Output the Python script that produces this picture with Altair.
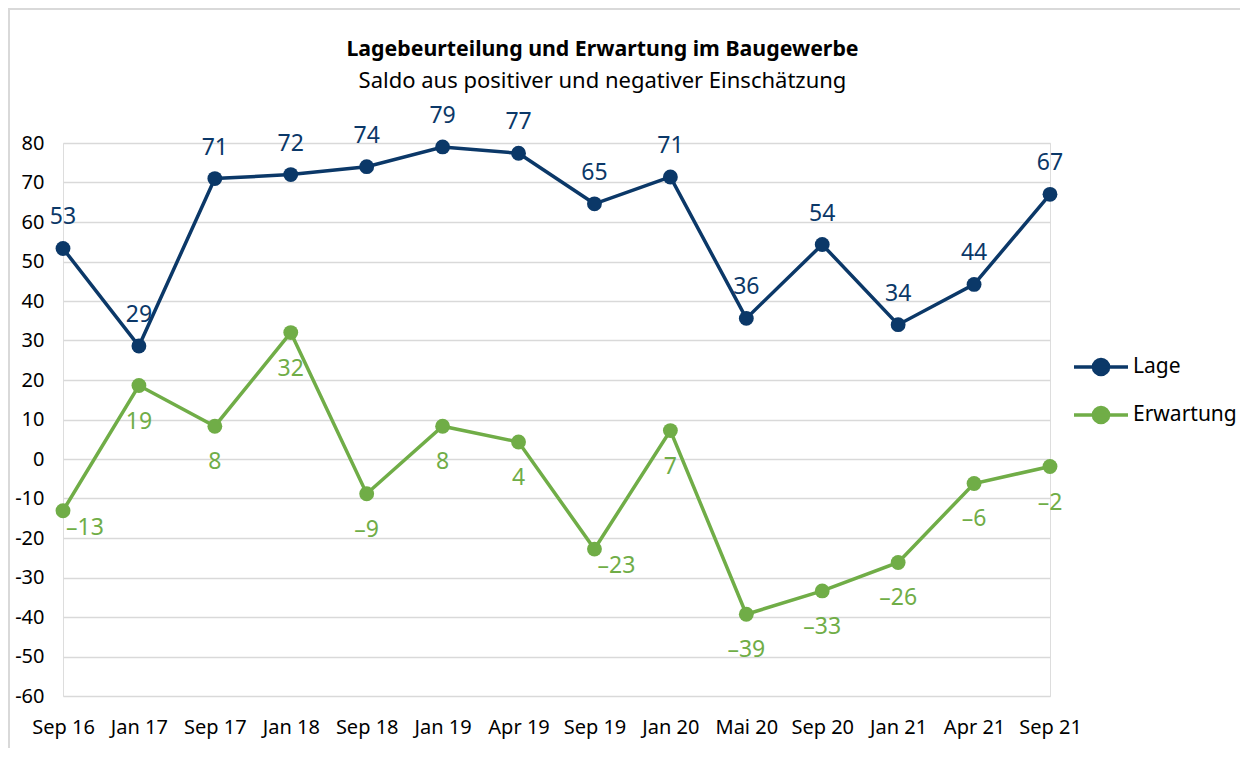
import altair as alt
import pandas as pd

months = ["Sep 16", "Jan 17", "Sep 17", "Jan 18", "Sep 18", "Jan 19", "Apr 19",
          "Sep 19", "Jan 20", "Mai 20", "Sep 20", "Jan 21", "Apr 21", "Sep 21"]
lage = [53.3, 28.6, 71.0, 72.0, 74.0, 79.0, 77.4, 64.6, 71.4, 35.6, 54.3, 34.0, 44.2, 67.0]
erwartung = [-13.1, 18.6, 8.3, 32.0, -8.8, 8.3, 4.3, -22.8, 7.2, -39.3, -33.4, -26.2, -6.2, -1.9]
series = ["Lage", "Erwartung"]
colors = ["#0b3868", "#70ad47"]

rows = []
for i, m in enumerate(months):
    rows.append({"Monat": m, "Serie": "Lage", "Wert": lage[i], "Label": str(round(lage[i]))})
    rows.append({"Monat": m, "Serie": "Erwartung", "Wert": erwartung[i],
                 "Label": str(round(erwartung[i])).replace("-", "\u2013")})
df = pd.DataFrame(rows)

FONT = "Noto Sans"

x = alt.X("Monat:N", sort=months, scale=alt.Scale(type="point", padding=0),
          axis=alt.Axis(title=None, labelAngle=0, labelFontSize=20, labelColor="#000000",
                        labelPadding=21, ticks=False, domain=False, grid=False,
                        labelFont=FONT))
y = alt.Y("Wert:Q", scale=alt.Scale(domain=[-60, 80], nice=False, zero=False),
          axis=alt.Axis(title=None, values=list(range(-60, 90, 10)), labelFontSize=20,
                        labelColor="#000000", labelPadding=19, ticks=False, domain=False,
                        grid=True, gridColor="#d9d9d9", gridWidth=1.5, labelFont=FONT,
                        labelExpr="replace(datum.label, '\u2212', '-')"))
color_scale = alt.Scale(domain=series, range=colors)

legend = alt.Legend(title=None, orient="none", legendX=1009, legendY=195,
                    symbolType="M-1,0H1M0.28,0A0.28,0.28 0 1 1 -0.28,0A0.28,0.28 0 1 1 0.28,0Z",
                    symbolSize=2916, symbolStrokeWidth=3.5, labelFontSize=21, labelFont=FONT,
                    labelColor="#000000", rowPadding=4, labelOffset=3, symbolOpacity=1)

base = alt.Chart(df)

lines = base.mark_line(strokeWidth=3.5).encode(
    x=x, y=y, color=alt.Color("Serie:N", scale=color_scale, legend=legend),
    detail="Serie:N")
points = base.mark_circle(size=220, opacity=1).encode(
    x=x, y=y, color=alt.Color("Serie:N", scale=color_scale, legend=legend))

special_expr = "(datum.Monat === 'Sep 16' || datum.Monat === 'Sep 19')"
lab_lage = base.transform_filter("datum.Serie === 'Lage'").mark_text(
    dy=-31, fontSize=23, font=FONT, baseline="middle").encode(
    x=x, y=y, text="Label:N", color=alt.Color("Serie:N", scale=color_scale, legend=None))
lab_erw = base.transform_filter(
    "datum.Serie === 'Erwartung' && !" + special_expr
).mark_text(dy=36, fontSize=23, font=FONT, baseline="middle").encode(
    x=x, y=y, text="Label:N", color=alt.Color("Serie:N", scale=color_scale, legend=None))
lab_erw2 = base.transform_filter(
    "datum.Serie === 'Erwartung' && " + special_expr
).mark_text(dy=17, dx=22, fontSize=23, font=FONT, baseline="middle").encode(
    x=x, y=y, text="Label:N", color=alt.Color("Serie:N", scale=color_scale, legend=None))

frame = alt.Chart(pd.DataFrame({"a": [0]})).mark_rect(
    fill="transparent", stroke="#d9d9d9", strokeWidth=2).encode(
    x=alt.value(-54), x2=alt.value(1200), y=alt.value(-134), y2=alt.value(640))

chart = alt.layer(frame, lines, points, lab_lage, lab_erw, lab_erw2).properties(
    width=987, height=553,
    padding={"left": 55, "top": 135, "right": 190, "bottom": 52},
    autosize=alt.AutoSizeParams(type="none"),
    title=alt.Title(
        text="Lagebeurteilung und Erwartung im Baugewerbe",
        subtitle="Saldo aus positiver und negativer Einschätzung",
        font=FONT, fontSize=21.3, fontWeight="bold", color="#000000",
        subtitleFont=FONT, subtitleFontSize=22, subtitleColor="#000000",
        subtitlePadding=11, anchor="middle", dx=46, dy=84, offset=0, frame="group"),
).configure_view(stroke=None).configure(background="white")

chart.save("out.html", embed_options={"renderer": "svg", "actions": False})
